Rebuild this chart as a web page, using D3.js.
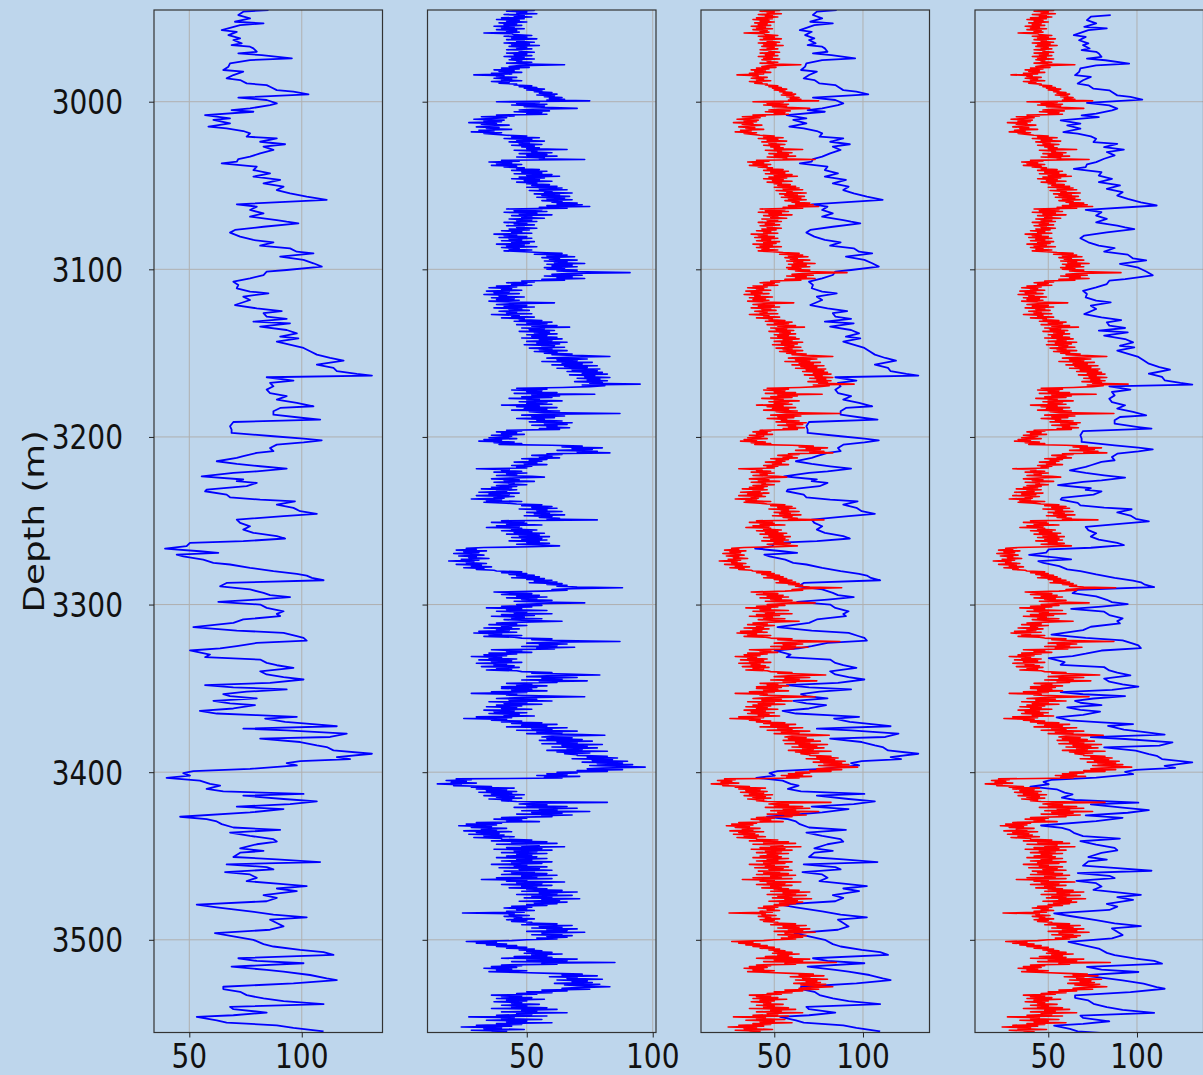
<!DOCTYPE html>
<html>
<head>
<meta charset="utf-8">
<script src="https://cdn.jsdelivr.net/npm/d3@7"></script>
<style>
  html, body { margin: 0; padding: 0; background: #bed6ec; }
  svg { display: block; }
  text { font-family: "DejaVu Sans", sans-serif; fill: #111; }
</style>
</head>
<body>
<svg id="chart" width="1203" height="1075"></svg>
<script>
// Gamma-ray log: depth (m) and value at each digitised vertex
const grDepth = [
  2945.3, 2946.3, 2948.3, 2950.3, 2952.3, 2953.3, 2954.3, 2957.3, 2958.3, 2960.3,
  2962.2, 2963.2, 2965.2, 2966.2, 2967.2, 2968.2, 2970.2, 2971.2, 2972.2, 2974.2,
  2975.2, 2977.1, 2979.1, 2981.1, 2982.1, 2984.1, 2986.1, 2987.1, 2989.1, 2990.1,
  2991.1, 2993.1, 2994.0, 2995.6, 2997.6, 2999.0, 3001.0, 3002.0, 3004.0, 3005.0,
  3006.0, 3008.0, 3009.9, 3010.9, 3012.9, 3014.9, 3015.9, 3017.5, 3018.9, 3020.9,
  3021.9, 3023.9, 3025.4, 3026.8, 3028.8, 3030.8, 3032.8, 3034.2, 3035.8, 3036.8,
  3038.8, 3040.8, 3042.7, 3044.7, 3046.7, 3048.7, 3050.7, 3052.7, 3054.7, 3056.7,
  3058.6, 3061.2, 3062.6, 3064.6, 3066.6, 3068.6, 3070.6, 3071.6, 3072.6, 3074.6,
  3076.5, 3078.1, 3080.5, 3082.5, 3083.9, 3085.9, 3087.5, 3089.5, 3090.5, 3092.4,
  3094.4, 3096.4, 3098.4, 3100.4, 3101.4, 3103.4, 3105.4, 3107.4, 3109.3, 3111.3,
  3113.3, 3114.3, 3116.3, 3118.3, 3121.3, 3123.3, 3124.9, 3126.2, 3128.2, 3129.6,
  3131.2, 3132.2, 3134.2, 3136.2, 3138.2, 3140.2, 3141.2, 3143.1, 3146.9, 3148.9,
  3150.9, 3152.9, 3154.5, 3156.9, 3158.8, 3160.8, 3162.4, 3163.4, 3164.4, 3166.4,
  3167.8, 3169.8, 3171.8, 3173.8, 3175.7, 3177.7, 3179.7, 3181.7, 3182.7, 3184.7,
  3186.7, 3188.7, 3189.7, 3191.1, 3193.6, 3195.6, 3197.6, 3199.6, 3201.0, 3202.0,
  3203.2, 3204.6, 3206.6, 3208.5, 3209.5, 3211.5, 3212.5, 3214.5, 3216.1, 3217.5,
  3218.9, 3220.5, 3221.5, 3223.5, 3225.4, 3226.4, 3227.4, 3229.4, 3231.4, 3232.4,
  3234.4, 3236.0, 3237.4, 3238.4, 3240.4, 3242.3, 3244.3, 3245.9, 3247.3, 3249.3,
  3251.3, 3253.3, 3255.3, 3257.2, 3259.2, 3260.6, 3262.2, 3263.2, 3265.2, 3266.6,
  3268.2, 3269.2, 3270.2, 3271.2, 3273.2, 3275.1, 3276.1, 3278.1, 3280.1, 3281.7,
  3282.7, 3284.1, 3285.5, 3287.1, 3289.1, 3291.0, 3293.0, 3294.4, 3295.6, 3297.0,
  3298.4, 3300.0, 3302.0, 3304.0, 3305.6, 3306.9, 3308.9, 3310.9, 3313.5, 3315.5,
  3316.9, 3318.9, 3319.9, 3321.5, 3322.9, 3324.8, 3326.2, 3327.4, 3329.8, 3331.4,
  3332.8, 3334.8, 3336.2, 3337.8, 3339.8, 3341.7, 3343.3, 3344.7, 3346.7, 3348.1,
  3349.4, 3350.6, 3352.0, 3353.4, 3354.6, 3356.0, 3357.4, 3359.0, 3360.0, 3362.0,
  3363.4, 3365.0, 3366.0, 3367.0, 3368.0, 3370.0, 3371.0, 3372.6, 3374.0, 3375.0,
  3377.0, 3379.0, 3380.0, 3382.0, 3384.0, 3385.0, 3387.0, 3389.0, 3391.0, 3392.2,
  3393.4, 3394.6, 3396.0, 3398.0, 3399.4, 3400.6, 3402.0, 3403.4, 3405.0, 3407.0,
  3408.0, 3410.0, 3411.4, 3413.0, 3414.0, 3416.0, 3417.4, 3419.0, 3420.6, 3422.0,
  3424.0, 3426.6, 3428.0, 3429.4, 3431.0, 3433.0, 3434.4, 3436.0, 3438.0, 3440.0,
  3441.4, 3443.0, 3445.4, 3447.0, 3448.0, 3450.6, 3452.0, 3453.6, 3455.0, 3456.6,
  3458.0, 3459.6, 3461.0, 3463.0, 3465.0, 3466.6, 3468.0, 3469.4, 3471.0, 3473.4,
  3475.0, 3477.0, 3479.0, 3480.6, 3483.0, 3485.0, 3486.6, 3488.0, 3490.0, 3492.0,
  3494.0, 3496.0, 3498.0, 3500.0, 3502.6, 3504.0, 3506.0, 3507.4, 3509.0, 3511.0,
  3512.6, 3514.0, 3516.0, 3518.0, 3519.0, 3521.0, 3523.0, 3524.0, 3526.0, 3528.0,
  3529.4, 3531.0, 3533.0, 3535.0, 3536.6, 3538.4, 3540.0, 3541.4, 3543.4, 3545.0,
  3546.0, 3548.0, 3549.4, 3551.0, 3552.6, 3554.6
];
const grValue = [
  85.2, 74.0, 71.8, 77.0, 70.3, 83.0, 72.6, 64.4, 71.1, 67.4,
  72.6, 69.6, 73.3, 68.8, 77.0, 78.5, 80.0, 71.8, 82.2, 95.6,
  77.0, 68.1, 67.4, 65.1, 74.0, 69.6, 66.6, 72.6, 75.5, 84.4,
  85.9, 88.9, 96.3, 103.0, 71.8, 84.4, 88.9, 85.9, 77.0, 68.8,
  78.5, 57.0, 68.1, 60.7, 68.1, 58.5, 66.6, 74.0, 77.0, 75.5,
  88.9, 81.5, 92.6, 83.0, 87.4, 81.5, 77.0, 71.8, 71.1, 64.4,
  80.0, 78.5, 85.9, 78.5, 90.4, 83.0, 91.9, 88.9, 94.8, 102.2,
  111.1, 71.1, 80.0, 77.0, 83.0, 77.0, 88.9, 93.3, 98.5, 83.0,
  70.3, 68.1, 72.6, 78.5, 87.4, 81.5, 94.8, 97.8, 105.2, 90.4,
  100.8, 105.2, 108.9, 93.3, 84.4, 83.0, 77.0, 69.6, 71.8, 71.1,
  77.0, 85.2, 74.0, 77.0, 70.3, 80.0, 91.1, 83.0, 84.4, 93.3,
  78.5, 94.8, 81.5, 93.3, 97.8, 90.4, 98.5, 88.9, 100.8, 103.7,
  106.7, 112.6, 118.6, 106.7, 114.1, 115.6, 124.5, 131.2, 84.4, 96.3,
  85.9, 87.4, 84.4, 85.9, 93.3, 88.9, 97.8, 105.2, 90.4, 87.4,
  87.4, 100.8, 108.2, 69.6, 68.1, 68.8, 68.8, 87.4, 100.8, 108.9,
  100.8, 88.9, 85.9, 87.4, 80.0, 74.0, 71.1, 62.2, 71.1, 81.5,
  93.3, 80.0, 69.6, 55.5, 74.0, 71.1, 80.0, 75.5, 57.7, 57.0,
  66.6, 68.1, 81.5, 97.0, 88.9, 96.3, 99.3, 106.7, 91.9, 71.1,
  72.6, 77.0, 74.0, 78.5, 88.9, 92.6, 74.0, 50.3, 48.8, 39.2,
  54.7, 62.9, 44.4, 47.3, 56.2, 60.7, 68.1, 77.0, 87.4, 97.8,
  102.2, 104.5, 109.7, 66.6, 63.7, 77.0, 83.0, 85.9, 94.8, 80.0,
  62.9, 81.5, 84.4, 91.9, 88.9, 90.4, 74.0, 69.6, 51.8, 71.1,
  91.9, 97.8, 100.8, 102.2, 80.0, 71.1, 63.7, 50.3, 59.2, 57.0,
  81.5, 84.4, 88.9, 96.3, 81.5, 84.4, 91.9, 100.8, 85.9, 57.0,
  69.6, 93.3, 75.5, 65.1, 68.1, 80.0, 60.7, 68.1, 79.2, 69.6,
  54.7, 62.2, 80.0, 97.8, 83.7, 92.6, 102.2, 115.6, 74.0, 93.3,
  120.0, 112.6, 81.5, 99.3, 106.7, 111.1, 114.1, 131.2, 115.6, 121.5,
  99.3, 93.3, 97.8, 77.0, 51.8, 47.3, 50.3, 39.9, 54.7, 59.2,
  63.7, 57.7, 65.1, 100.8, 74.0, 91.9, 106.7, 94.8, 71.1, 91.9,
  77.0, 45.9, 57.7, 62.2, 64.4, 69.6, 90.4, 68.1, 77.0, 87.4,
  88.9, 80.0, 72.6, 83.0, 72.6, 69.6, 88.9, 108.2, 66.6, 84.4,
  87.4, 65.9, 77.0, 80.0, 75.5, 90.4, 102.2, 88.9, 97.8, 83.0,
  88.9, 84.4, 53.3, 62.2, 77.0, 87.4, 102.2, 85.9, 88.9, 91.9,
  85.9, 61.4, 69.6, 78.5, 83.0, 87.4, 99.3, 109.7, 114.1, 71.8,
  80.0, 100.8, 68.8, 84.4, 91.9, 103.7, 111.1, 115.6, 96.3, 65.1,
  65.1, 72.6, 75.5, 83.0, 91.9, 109.7, 68.1, 69.6, 84.4, 69.6,
  53.3, 62.2, 66.6, 88.9, 96.3, 109.7
];

// Reference log sampled every half metre from refStart
const refStart = 2945;
const refStep = 0.5;
const refValue = [
  44, 53, 42, 50, 46, 54, 41, 49, 45, 52,
  40, 49, 38, 47, 42, 50, 39, 46, 41, 48, 37, 45, 40, 49, 38, 46, 42, 47, 33, 44,
  45, 52, 41, 50, 44, 54, 42, 49, 46, 53, 41, 51, 44, 55, 43, 50, 46, 52, 42, 48,
  47, 53, 42, 50, 45, 52, 41, 49, 44, 53, 43, 48, 46, 52, 42, 50, 65, 47, 43, 51,
  40, 47, 37, 45, 39, 48, 36, 44, 29, 41, 38, 46, 37, 44, 40, 48, 36, 43, 39, 46,
  45, 52, 47, 54, 49, 57, 50, 56, 53, 60, 55, 62, 54, 61, 57, 64, 59, 65, 58, 75,
  38, 55, 46, 58, 44, 57, 49, 60, 70, 52, 47, 59, 45, 56, 50, 58, 38, 45, 32, 42,
  36, 29, 41, 33, 40, 27, 38, 32, 43, 35, 30, 39, 34, 44, 31, 37, 28, 40, 33, 38,
  42, 50, 44, 55, 41, 52, 46, 57, 43, 51, 47, 56, 44, 53, 48, 55, 50, 66, 45, 54,
  52, 60, 47, 58, 50, 62, 46, 57, 55, 73, 40, 47, 35, 44, 38, 48, 36, 46, 41, 49,
  46, 55, 44, 58, 48, 56, 45, 60, 50, 63, 47, 57, 44, 55, 49, 60, 46, 54, 50, 59,
  52, 62, 50, 64, 55, 66, 51, 60, 57, 68, 53, 63, 56, 67, 54, 65, 58, 68, 56, 64,
  60, 70, 62, 72, 58, 75, 55, 66, 42, 56, 45, 58, 41, 54, 47, 60, 44, 52, 48, 57,
  43, 52, 46, 54, 41, 50, 45, 53, 42, 49, 46, 54, 43, 51, 40, 48, 44, 52, 37, 46,
  41, 50, 39, 52, 43, 48, 40, 53, 44, 51, 38, 49, 42, 54, 40, 47, 43, 52, 41, 49,
  55, 64, 53, 66, 58, 69, 56, 63, 59, 70, 57, 66, 61, 73, 58, 68, 60, 70, 57, 65,
  58, 70, 62, 74, 91, 66, 60, 72, 57, 68, 62, 73, 56, 65, 48, 53, 42, 50, 44, 52,
  38, 46, 35, 44, 40, 48, 34, 43, 37, 47, 33, 42, 39, 49, 36, 45, 38, 47, 35, 44,
  61, 44, 38, 50, 41, 53, 37, 48, 43, 51, 39, 46, 42, 52, 36, 47, 44, 53, 40, 49,
  47, 56, 45, 60, 50, 58, 46, 62, 52, 67, 48, 57, 51, 61, 47, 59, 53, 62, 50, 58,
  52, 62, 48, 64, 55, 60, 50, 66, 54, 63, 49, 61, 56, 65, 51, 60, 55, 66, 53, 62,
  57, 68, 60, 72, 83, 66, 58, 74, 62, 70, 56, 76, 64, 72, 60, 78, 65, 74, 62, 79,
  68, 78, 66, 80, 72, 82, 67, 77, 73, 83, 70, 79, 74, 82, 69, 80, 75, 95, 72, 81,
  75, 64, 46, 58, 44, 56, 50, 62, 45, 77, 52, 63, 48, 60, 43, 55, 50, 64, 47, 58,
  50, 60, 40, 55, 46, 62, 49, 58, 44, 63, 51, 57, 87, 60, 48, 65, 52, 61, 46, 57,
  54, 64, 51, 68, 57, 66, 52, 62, 58, 67, 55, 63, 42, 48, 38, 46, 40, 49, 36, 44,
  42, 35, 46, 33, 40, 31, 45, 37, 48, 39, 60, 72, 64, 80, 68, 76, 62, 78, 70, 83,
  58, 64, 52, 60, 55, 63, 48, 58, 51, 56, 45, 54, 49, 58, 44, 52, 46, 50, 30, 43,
  40, 48, 37, 50, 42, 46, 38, 52, 57, 44, 36, 47, 41, 53, 37, 45, 43, 50, 38, 46,
  36, 44, 32, 46, 38, 42, 31, 47, 35, 43, 30, 45, 37, 41, 28, 40, 34, 48, 33, 42,
  46, 56, 48, 60, 52, 62, 47, 58, 54, 64, 50, 59, 53, 65, 49, 60, 55, 63, 58, 78,
  40, 49, 36, 50, 42, 56, 38, 47, 34, 48, 44, 54, 40, 52, 45, 57, 42, 55, 47, 59,
  44, 56, 48, 58, 43, 55, 50, 59, 46, 54, 63, 52, 33, 26, 30, 22, 34, 25, 31, 21,
  28, 33, 23, 30, 27, 35, 24, 31, 19, 29, 26, 34, 22, 32, 28, 36, 25, 33, 30, 37,
  38, 48, 40, 50, 43, 53, 46, 55, 44, 57, 50, 60, 53, 62, 51, 64, 58, 66, 62, 70,
  88, 68, 60, 66, 56, 37, 44, 52, 40, 55, 46, 58, 42, 54, 48, 60, 45, 56, 73, 54,
  46, 56, 40, 52, 34, 48, 42, 58, 38, 50, 45, 60, 40, 53, 36, 49, 44, 56, 41, 51,
  64, 48, 38, 46, 35, 50, 40, 44, 33, 47, 38, 43, 31, 46, 29, 40, 35, 48, 33, 45,
  48, 60, 52, 64, 87, 58, 50, 66, 55, 62, 48, 69, 54, 61, 36, 48, 42, 52, 35, 46,
  33, 42, 28, 40, 35, 46, 31, 44, 36, 48, 30, 42, 37, 45, 32, 47, 38, 44, 34, 46,
  48, 60, 52, 66, 79, 58, 50, 70, 56, 64, 48, 74, 55, 62, 42, 52, 46, 58, 40, 54,
  40, 52, 44, 58, 36, 50, 28, 46, 42, 55, 73, 48, 38, 54, 43, 60, 35, 50, 41, 56,
  38, 48, 34, 46, 40, 52, 33, 45, 37, 50, 35, 47, 41, 53, 30, 44, 25, 42, 36, 48,
  40, 56, 44, 62, 48, 58, 42, 66, 52, 60, 46, 70, 54, 64, 50, 72, 81, 60, 56, 68,
  58, 72, 55, 76, 62, 70, 56, 80, 64, 74, 60, 78, 66, 72, 58, 82, 62, 75, 65, 70,
  70, 82, 74, 86, 68, 84, 76, 90, 72, 88, 78, 92, 75, 86, 97, 80, 74, 88, 70, 82,
  62, 70, 58, 66, 54, 71, 57, 64, 22, 28, 18, 26, 20, 30, 14.5, 24, 21, 36, 28, 45,
  30, 42, 34, 46, 31, 44, 36, 49, 33, 45, 38, 48, 35, 44, 40, 46, 82, 52, 47, 58,
  50, 66, 45, 70, 55, 62, 48, 75, 52, 64, 46, 68, 56, 60, 40, 50, 37, 48, 42, 55,
  30, 40, 26, 38, 23, 36, 28, 42, 32, 38, 25, 44, 30, 39, 27, 41, 33, 45, 29, 40,
  40, 52, 36, 58, 44, 62, 38, 55, 48, 65, 42, 56, 37, 60, 45, 54, 40, 58, 46, 52,
  42, 54, 38, 58, 46, 52, 40, 60, 44, 56, 36, 50, 45, 58, 39, 55, 47, 60, 41, 53,
  44, 58, 40, 62, 48, 54, 38, 60, 32, 50, 42, 65, 46, 56, 40, 60, 48, 54, 43, 58,
  50, 64, 48, 70, 55, 62, 46, 68, 52, 60, 49, 71, 56, 63, 47, 66, 53, 62, 50, 58,
  44, 52, 41, 50, 46, 53, 42, 49, 24.5, 45, 43, 51, 41, 48, 45, 53, 42, 50, 44, 52,
  50, 62, 48, 68, 55, 64, 52, 70, 58, 66, 50, 73, 56, 64, 52, 68, 58, 66, 54, 62,
  50, 44, 26, 38, 30, 42, 34, 46, 38, 50, 42, 53, 47, 56, 50, 60, 49, 64, 52, 58,
  45, 60, 40, 70, 50, 66, 44, 85, 56, 62, 40, 48, 36, 46, 33, 44, 38, 50, 35, 47,
  60, 72, 64, 78, 59, 70, 66, 80, 62, 74, 68, 76, 61, 79, 65, 73, 83, 70, 64, 75,
  56, 66, 50, 60, 46, 54, 36, 48, 40, 52, 38, 57, 42, 50, 37, 48, 44, 55, 40, 50,
  44, 58, 36, 62, 48, 54, 40, 66, 46, 52, 38, 58, 27, 45, 40, 56, 34, 50, 42, 60,
  38, 48, 30, 44, 24, 40, 33, 49, 28, 42, 36
];

// Bulk depth shift (m) applied to the gamma-ray log to tie it to the reference
const shiftDepth = [2945, 3085, 3100, 3220, 3265, 3330, 3362, 3375, 3555];
const shiftMeters = [3.0, 3.4, 5.4, 5.4, 3.8, 4.6, 3.8, 5.2, 5.2];

const depthTicks = [3000, 3100, 3200, 3300, 3400, 3500];
const valueTicks = [50, 100];
const depthLimits = [2945.3, 3555.3];
const trackLimits = [[34.3, 135.9], [10.6, 101.3], [8.7, 137.5], [8.7, 137.5]];

// ---- layout ----
const svg = d3.select("#chart");
const trackLeft = [154, 427.5, 701, 975];
const trackWidth = 228.5;
const plotTop = 10, plotBottom = 1032.5;
const BLUE = "#0000ff", RED = "#ff0000";
const FONT = 28, STRETCH = 1.23;   // glyphs are drawn taller than wide

svg.append("rect").attr("width", 1203).attr("height", 1075).attr("fill", "#bed6ec");

const y = d3.scaleLinear().domain(depthLimits).range([plotTop, plotBottom]);
const shift = d3.scaleLinear().domain(shiftDepth).range(shiftMeters).clamp(true);

const grPts = grDepth.map((d, i) => [d, grValue[i]]);
const refPts = refValue.map((v, i) => [refStart + i * refStep, v]);
const grShiftedPts = grDepth.map((d, i) => [d + shift(d), grValue[i]]);

const tracks = [
  { series: [[grPts, BLUE, 1.8]] },
  { series: [[refPts, BLUE, 1.6]] },
  { series: [[grPts, BLUE, 1.8], [refPts, RED, 1.6]] },
  { series: [[grShiftedPts, BLUE, 1.8], [refPts, RED, 1.6]] }
];

function label(sel, txt, tx, ty, anchor) {
  sel.append("text")
    .attr("transform", `translate(${tx},${ty}) scale(1,${STRETCH})`)
    .attr("text-anchor", anchor)
    .attr("dy", "0.36em")
    .attr("font-size", FONT)
    .text(txt);
}

tracks.forEach((t, k) => {
  const x = d3.scaleLinear().domain(trackLimits[k]).range([0, trackWidth]);
  const g = svg.append("g").attr("transform", `translate(${trackLeft[k]},0)`);

  g.append("clipPath").attr("id", "clip" + k)
    .append("rect").attr("x", 0).attr("y", plotTop)
    .attr("width", trackWidth).attr("height", plotBottom - plotTop);

  // grid
  g.append("g").selectAll("line").data(valueTicks).join("line")
    .attr("x1", d => x(d)).attr("x2", d => x(d))
    .attr("y1", plotTop).attr("y2", plotBottom)
    .attr("stroke", "#b0b0b0").attr("stroke-width", 1);
  g.append("g").selectAll("line").data(depthTicks).join("line")
    .attr("x1", 0).attr("x2", trackWidth)
    .attr("y1", d => y(d)).attr("y2", d => y(d))
    .attr("stroke", "#b0b0b0").attr("stroke-width", 1);

  const line = d3.line().x(p => x(p[1])).y(p => y(p[0]));
  const curves = g.append("g").attr("clip-path", `url(#clip${k})`);
  t.series.forEach(([pts, col, w]) => {
    curves.append("path").datum(pts)
      .attr("d", line).attr("fill", "none")
      .attr("stroke", col).attr("stroke-width", w)
      .attr("stroke-linejoin", "round");
  });

  // frame
  g.append("rect").attr("x", 0).attr("y", plotTop)
    .attr("width", trackWidth).attr("height", plotBottom - plotTop)
    .attr("fill", "none").attr("stroke", "#333").attr("stroke-width", 1.2);

  // depth ticks (labels on the first track only)
  const yg = g.append("g").call(d3.axisLeft(y).tickValues(depthTicks).tickSize(5).tickFormat(() => ""));
  yg.select(".domain").remove();
  yg.selectAll(".tick line").attr("stroke", "#222");
  if (k === 0) depthTicks.forEach(d => label(g, d3.format("d")(d), -31, y(d), "end"));

  // value ticks
  const xg = g.append("g").attr("transform", `translate(0,${plotBottom})`)
    .call(d3.axisBottom(x).tickValues(valueTicks).tickSize(5).tickFormat(() => ""));
  xg.select(".domain").remove();
  xg.selectAll(".tick line").attr("stroke", "#222");
  valueTicks.forEach(v => label(g, String(v), x(v), 1055.5, "middle"));
});

svg.append("text")
  .attr("transform", `translate(44,${(plotTop + plotBottom) / 2}) scale(1,${STRETCH}) rotate(-90)`)
  .attr("text-anchor", "middle")
  .attr("font-size", FONT + 1)
  .text("Depth (m)");
</script>
</body>
</html>
